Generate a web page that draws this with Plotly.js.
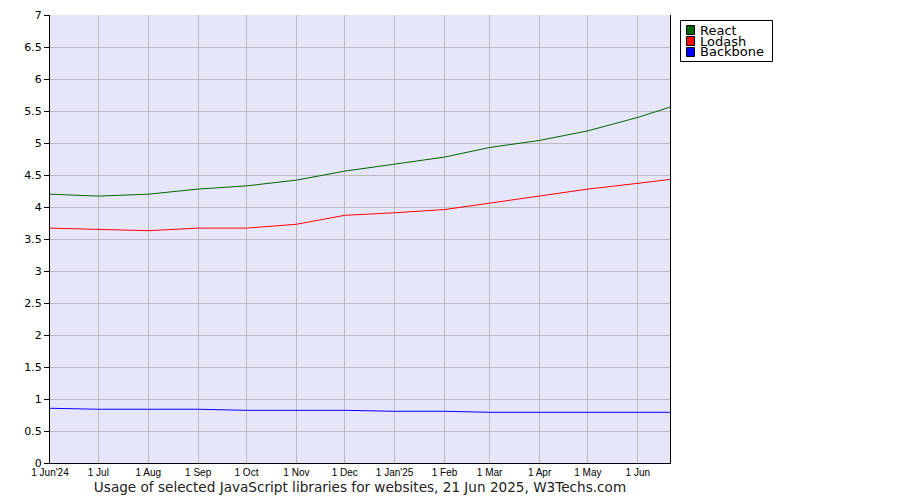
<!DOCTYPE html>
<html>
<head>
<meta charset="utf-8">
<script src="https://cdn.plot.ly/plotly-3.0.1.min.js"></script>
<style>html,body{margin:0;padding:0;background:#fff;}#chart{width:900px;height:500px;}</style>
</head>
<body>
<div id="chart"></div>
<script>
const dates = ['2024-06-01','2024-07-01','2024-08-01','2024-09-01','2024-10-01','2024-11-01','2024-12-01','2025-01-01','2025-02-01','2025-03-01','2025-04-01','2025-05-01','2025-06-01','2025-06-21'];
const seriesNames = ['React','Lodash','Backbone'];
const reactValues = [4.20,4.17,4.20,4.28,4.33,4.42,4.56,4.67,4.78,4.93,5.04,5.19,5.40,5.56];
const lodashValues = [3.67,3.65,3.63,3.67,3.67,3.73,3.87,3.91,3.96,4.06,4.17,4.28,4.37,4.43];
const backboneValues = [0.855,0.84,0.84,0.84,0.823,0.823,0.823,0.808,0.808,0.792,0.792,0.792,0.792,0.792];
const seriesColors = ['#006400','#ff0000','#0000ff'];
const tickDates = ['2024-06-01','2024-07-01','2024-08-01','2024-09-01','2024-10-01','2024-11-01','2024-12-01','2025-01-01','2025-02-01','2025-03-01','2025-04-01','2025-05-01','2025-06-01'];
const tickLabels = ["1 Jun'24",'1 Jul','1 Aug','1 Sep','1 Oct','1 Nov','1 Dec',"1 Jan'25",'1 Feb','1 Mar','1 Apr','1 May','1 Jun'];
const yTickVals = [0,0.5,1,1.5,2,2.5,3,3.5,4,4.5,5,5.5,6,6.5,7];
const chartTitle = 'Usage of selected JavaScript libraries for websites, 21 Jun 2025, W3Techs.com';

const allValues = [reactValues, lodashValues, backboneValues];
const traces = seriesNames.map((name, i) => ({
  x: dates, y: allValues[i], name: name, type: 'scatter', mode: 'lines',
  line: {color: seriesColors[i], width: 1}, showlegend: false, hoverinfo: 'x+y+name'
}));

// Legend built manually (paper coords)
const W = 900, H = 500, mL = 50, mR = 230, mT = 15, mB = 37;
const pw = W - mL - mR, ph = H - mT - mB;
const px = x => (x - mL) / pw;
const py = y => 1 - (y - mT) / ph;
const shapes = [{
  type: 'rect', xref: 'paper', yref: 'paper',
  x0: px(680.5), x1: px(772.5), y0: py(61.5), y1: py(20.5),
  line: {color: '#000', width: 1}, fillcolor: '#fff', layer: 'above'
}];
const annotations = [];
seriesNames.forEach((name, i) => {
  const cy = 30 + i * 11;
  shapes.push({
    type: 'rect', xref: 'paper', yref: 'paper',
    x0: px(686.5), x1: px(694.5), y0: py(cy + 4.5), y1: py(cy - 4.5),
    line: {color: '#000', width: 1}, fillcolor: seriesColors[i], layer: 'above'
  });
  annotations.push({
    xref: 'paper', yref: 'paper', x: px(699), y: py(cy), xanchor: 'left', yanchor: 'middle',
    text: name, showarrow: false, height: 11, valign: 'middle', borderpad: 0,
    font: {family: 'DejaVu Sans', size: 13, color: '#000'}
  });
});

const layout = {
  width: W, height: H,
  margin: {l: mL, r: mR, t: mT, b: mB, pad: 0},
  paper_bgcolor: '#fff', plot_bgcolor: '#e6e6fa',
  showlegend: false,
  font: {family: 'DejaVu Sans', size: 11, color: '#000'},
  xaxis: {
    type: 'date', range: ['2024-06-01', '2025-06-21'],
    tickvals: tickDates, ticktext: tickLabels, tickangle: 0,
    tickfont: {family: 'Liberation Sans', size: 10, color: '#000'},
    showgrid: true, gridcolor: '#bbbbbb', gridwidth: 1,
    showline: true, linecolor: '#000', linewidth: 1, mirror: false,
    ticks: '', zeroline: false, fixedrange: true,
    title: {text: chartTitle, font: {family: 'DejaVu Sans', size: 13.6, color: '#222'}, standoff: 5}
  },
  yaxis: {
    range: [0, 7], tickvals: yTickVals, ticktext: yTickVals.map(String),
    tickfont: {family: 'DejaVu Sans', size: 11, color: '#000'},
    showgrid: true, gridcolor: '#bbbbbb', gridwidth: 1,
    showline: true, linecolor: '#000', linewidth: 1, mirror: true,
    ticks: 'outside', ticklen: 5, tickcolor: '#000', tickwidth: 1,
    zeroline: false, fixedrange: true
  },
  shapes: shapes,
  annotations: annotations
};

Plotly.newPlot('chart', traces, layout, {displayModeBar: false, staticPlot: true});
</script>
</body>
</html>
